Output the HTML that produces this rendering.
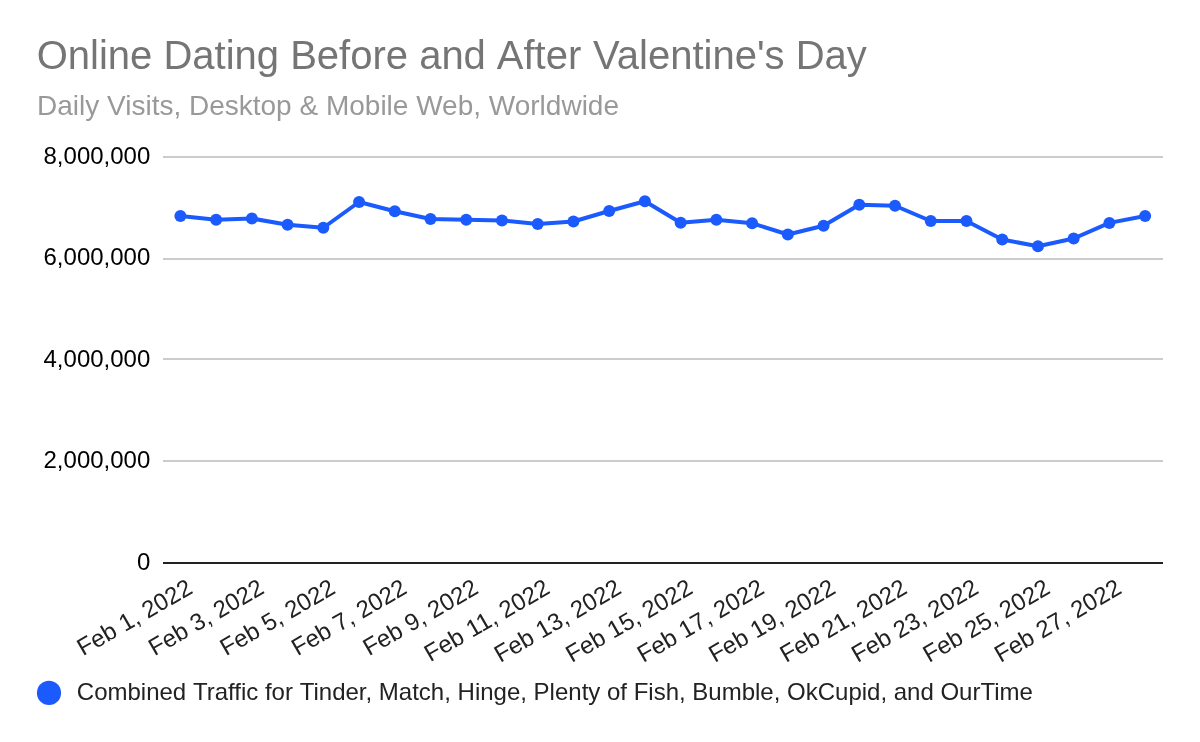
<!DOCTYPE html>
<html lang="en"><head><meta charset="utf-8"><title>Online Dating Before and After Valentine's Day</title>
<style>
html,body{margin:0;padding:0;background:#fff;}
body{width:1200px;height:742px;overflow:hidden;}
svg{display:block;}
text{font-family:"Liberation Sans",sans-serif;}
</style></head><body>
<svg width="1200" height="742" viewBox="0 0 1200 742">
<rect x="0" y="0" width="1200" height="742" fill="#ffffff"/>
<text x="36.7" y="69" font-size="40" fill="#757575">Online Dating Before and <tspan dx="2.0">After</tspan> <tspan dx="0.7">Valentine's</tspan> Day</text>
<text x="37" y="115.2" font-size="28" fill="#999999">Daily Visits, Desktop &amp; Mobile Web, Worldwide</text>
<rect x="163" y="156" width="1000" height="2" fill="#cccccc"/>
<rect x="163" y="258" width="1000" height="2" fill="#cccccc"/>
<rect x="163" y="358" width="1000" height="2" fill="#cccccc"/>
<rect x="163" y="460" width="1000" height="2" fill="#cccccc"/>
<rect x="163" y="562" width="1000" height="2" fill="#222222"/>
<text x="150.3" y="163.8" font-size="24" fill="#000" text-anchor="end">8,000,000</text>
<text x="150.3" y="265.3" font-size="24" fill="#000" text-anchor="end">6,000,000</text>
<text x="150.3" y="366.8" font-size="24" fill="#000" text-anchor="end">4,000,000</text>
<text x="150.3" y="468.3" font-size="24" fill="#000" text-anchor="end">2,000,000</text>
<text x="150.3" y="569.8" font-size="24" fill="#000" text-anchor="end">0</text>
<polyline points="180.40,216 216.13,219.75 251.86,218.5 287.59,224.75 323.32,227.75 359.06,202 394.79,211.25 430.52,219 466.25,219.75 501.98,220.5 537.71,223.9 573.44,221.5 609.17,211 644.90,201.25 680.64,222.75 716.37,219.75 752.10,223.25 787.83,234.5 823.56,225.75 859.29,204.75 895.02,205.75 930.75,221 966.48,221 1002.22,239.5 1037.95,246.25 1073.68,238.5 1109.41,222.9 1145.14,216" fill="none" stroke="#1b5bfe" stroke-width="4" stroke-linejoin="round" stroke-linecap="round"/>
<circle cx="180.40" cy="216" r="6" fill="#1b5bfe"/>
<circle cx="216.13" cy="219.75" r="6" fill="#1b5bfe"/>
<circle cx="251.86" cy="218.5" r="6" fill="#1b5bfe"/>
<circle cx="287.59" cy="224.75" r="6" fill="#1b5bfe"/>
<circle cx="323.32" cy="227.75" r="6" fill="#1b5bfe"/>
<circle cx="359.06" cy="202" r="6" fill="#1b5bfe"/>
<circle cx="394.79" cy="211.25" r="6" fill="#1b5bfe"/>
<circle cx="430.52" cy="219" r="6" fill="#1b5bfe"/>
<circle cx="466.25" cy="219.75" r="6" fill="#1b5bfe"/>
<circle cx="501.98" cy="220.5" r="6" fill="#1b5bfe"/>
<circle cx="537.71" cy="223.9" r="6" fill="#1b5bfe"/>
<circle cx="573.44" cy="221.5" r="6" fill="#1b5bfe"/>
<circle cx="609.17" cy="211" r="6" fill="#1b5bfe"/>
<circle cx="644.90" cy="201.25" r="6" fill="#1b5bfe"/>
<circle cx="680.64" cy="222.75" r="6" fill="#1b5bfe"/>
<circle cx="716.37" cy="219.75" r="6" fill="#1b5bfe"/>
<circle cx="752.10" cy="223.25" r="6" fill="#1b5bfe"/>
<circle cx="787.83" cy="234.5" r="6" fill="#1b5bfe"/>
<circle cx="823.56" cy="225.75" r="6" fill="#1b5bfe"/>
<circle cx="859.29" cy="204.75" r="6" fill="#1b5bfe"/>
<circle cx="895.02" cy="205.75" r="6" fill="#1b5bfe"/>
<circle cx="930.75" cy="221" r="6" fill="#1b5bfe"/>
<circle cx="966.48" cy="221" r="6" fill="#1b5bfe"/>
<circle cx="1002.22" cy="239.5" r="6" fill="#1b5bfe"/>
<circle cx="1037.95" cy="246.25" r="6" fill="#1b5bfe"/>
<circle cx="1073.68" cy="238.5" r="6" fill="#1b5bfe"/>
<circle cx="1109.41" cy="222.9" r="6" fill="#1b5bfe"/>
<circle cx="1145.14" cy="216" r="6" fill="#1b5bfe"/>
<text transform="translate(194.00,592.3) rotate(-30)" font-size="24" fill="#222" text-anchor="end">Feb 1, 2022</text>
<text transform="translate(265.46,592.3) rotate(-30)" font-size="24" fill="#222" text-anchor="end">Feb 3, 2022</text>
<text transform="translate(336.92,592.3) rotate(-30)" font-size="24" fill="#222" text-anchor="end">Feb 5, 2022</text>
<text transform="translate(408.39,592.3) rotate(-30)" font-size="24" fill="#222" text-anchor="end">Feb 7, 2022</text>
<text transform="translate(479.85,592.3) rotate(-30)" font-size="24" fill="#222" text-anchor="end">Feb 9, 2022</text>
<text transform="translate(551.31,592.3) rotate(-30)" font-size="24" fill="#222" text-anchor="end">Feb 11, 2022</text>
<text transform="translate(622.77,592.3) rotate(-30)" font-size="24" fill="#222" text-anchor="end">Feb 13, 2022</text>
<text transform="translate(694.24,592.3) rotate(-30)" font-size="24" fill="#222" text-anchor="end">Feb 15, 2022</text>
<text transform="translate(765.70,592.3) rotate(-30)" font-size="24" fill="#222" text-anchor="end">Feb 17, 2022</text>
<text transform="translate(837.16,592.3) rotate(-30)" font-size="24" fill="#222" text-anchor="end">Feb 19, 2022</text>
<text transform="translate(908.62,592.3) rotate(-30)" font-size="24" fill="#222" text-anchor="end">Feb 21, 2022</text>
<text transform="translate(980.08,592.3) rotate(-30)" font-size="24" fill="#222" text-anchor="end">Feb 23, 2022</text>
<text transform="translate(1051.55,592.3) rotate(-30)" font-size="24" fill="#222" text-anchor="end">Feb 25, 2022</text>
<text transform="translate(1123.01,592.3) rotate(-30)" font-size="24" fill="#222" text-anchor="end">Feb 27, 2022</text>
<circle cx="49" cy="692.9" r="12.1" fill="#1b5bfe"/>
<text x="76.8" y="700" font-size="24" fill="#222">Combined <tspan dx="0.5">Traffic</tspan> for <tspan dx="0.5">Tinder,</tspan> Match, Hinge, Plenty of Fish, Bumble, OkCupid, and OurTime</text>
</svg></body></html>
